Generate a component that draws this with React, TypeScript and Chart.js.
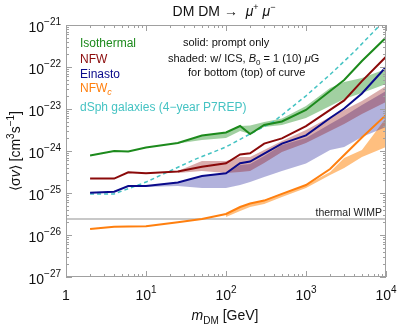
import React, { useEffect, useRef } from 'react';
import { Chart, registerables } from 'chart.js';
Chart.register(...registerables);

const FONT = '"Liberation Sans", Arial, Helvetica, sans-serif';

// ---- data (masses in GeV, <sigma v> in cm^3 s^-1) ----
const massGrid = [2, 4, 6, 10, 25, 50, 100, 150, 200, 300, 500, 1000, 2000, 3000, 5000, 10000];
const isothermal = [7.8e-25, 1.0e-24, 9.7e-25, 1.21e-24, 1.55e-24, 2.34e-24, 2.76e-24, 3.94e-24, 2.54e-24, 4.16e-24, 5.04e-24, 9.46e-24, 2.68e-23, 4.9e-23, 1.39e-22, 5.04e-22];
const nfw = [2.2e-25, 2.2e-25, 3.1e-25, 2.95e-25, 3.25e-25, 4.2e-25, 5.1e-25, 8.3e-25, 8.8e-25, 1.5e-24, 2.0e-24, 3.9e-24, 9.5e-24, 1.6e-23, 4.6e-23, 1.75e-22];
const einasto = [1.02e-25, 1.07e-25, 1.47e-25, 1.47e-25, 1.78e-25, 2.54e-25, 2.94e-25, 5.1e-25, 5.6e-25, 8.7e-25, 1.5e-24, 2.35e-24, 6.1e-24, 1.03e-23, 2.35e-23, 1.0e-22];
const nfwc = [1.39e-26, 1.58e-26, 1.59e-26, 1.61e-26, 2.0e-26, 2.4e-26, 3.16e-26, 4.64e-26, 5.6e-26, 6.6e-26, 9.5e-26, 1.55e-25, 3.73e-25, 8.0e-25, 2.1e-24, 7.2e-24];

const dsphMass = [2, 4, 10, 40, 100, 200, 400, 1000, 2000, 4000, 10000];
const dsph = [9.5e-26, 9.5e-26, 1.82e-25, 6.2e-25, 1.25e-24, 2.54e-24, 5.1e-24, 2.06e-23, 6.6e-23, 2.3e-22, 1.4e-21];

const isoBandMass = [25, 50, 100, 150, 200, 300, 500, 1000, 2000, 3000, 5000, 10000];
const isoBandTop = [1.59e-24, 2.34e-24, 2.76e-24, 3.94e-24, 4.05e-24, 4.9e-24, 5.94e-24, 1.18e-23, 3.16e-23, 4.39e-23, 5.47e-23, 8.96e-23];
const isoBandBottom = [1.51e-24, 1.83e-24, 2.04e-24, 2.99e-24, 2.54e-24, 3.73e-24, 4.16e-24, 6.1e-24, 1.18e-23, 1.73e-23, 2.4e-23, 3.94e-23];

const nfwBandMass = [25, 50, 100, 150, 200, 300, 500, 1000, 2000, 3000, 5000, 10000];
const nfwBandTop = [3.34e-25, 5.78e-25, 5.78e-25, 7.2e-25, 7.2e-25, 1.06e-24, 1.73e-24, 3.16e-24, 6.45e-24, 9.46e-24, 1.55e-23, 3.53e-23];
const nfwBandBottom = [2.99e-25, 3.34e-25, 2.99e-25, 3.16e-25, 3.34e-25, 5.18e-25, 9.46e-25, 1.55e-24, 2.99e-24, 4.39e-24, 7.6e-24, 1.47e-23];

const einBandMass = [10, 25, 50, 100, 150, 200, 300, 500, 1000, 2000, 3000, 5000, 10000];
const einBandTop = [1.47e-25, 1.78e-25, 2.54e-25, 2.94e-25, 4.64e-25, 4.9e-25, 7.6e-25, 1.39e-24, 2.04e-24, 4.39e-24, 6.81e-24, 1.25e-23, 2.68e-23];
const einBandBottom = [1.39e-25, 1.47e-25, 1.32e-25, 1.32e-25, 1.55e-25, 1.83e-25, 2.41e-25, 3.34e-25, 5.04e-25, 1.06e-24, 1.25e-24, 2.16e-24, 3.73e-24];

const nfwcBandMass = [100, 150, 200, 300, 500, 1000, 2000, 3000, 5000, 10000];
const nfwcBandTop = [3.16e-26, 4.64e-26, 5.62e-26, 6.81e-26, 9.73e-26, 1.55e-25, 3.16e-25, 6.81e-25, 1.06e-24, 6.1e-24];
const nfwcBandBottom = [2.68e-26, 3.73e-26, 4.64e-26, 5.47e-26, 8.03e-26, 1.32e-25, 2.68e-25, 3.94e-25, 7.2e-25, 1.25e-24];

const thermalWimp = 2.4e-26;
const xMin = 1, xMax = 1e4;
const yMin = 1e-27, yMax = 1e-21;
const xTickExps = [0, 1, 2, 3, 4];
const yTickExps = [-27, -26, -25, -24, -23, -22, -21];

const C_ISO = '#1c8a1c';
const C_NFW = '#8b0a0a';
const C_EIN = '#0a0a8b';
const C_NFWC = '#ff7f0e';
const C_DSPH = '#45c3c3';

type Seg = { t: string; it?: boolean; sup?: boolean; sub?: boolean };

function drawRich(ctx: CanvasRenderingContext2D, segs: Seg[], x: number, y: number, size: number, align: 'left' | 'center' | 'right', color: string, supSize?: number, supShift?: number) {
  const ss = supSize ?? size * 0.7;
  const sh = supShift ?? size * 0.45;
  const fontFor = (s: Seg) => `${s.it ? 'italic ' : ''}${s.sup || s.sub ? ss : size}px ${FONT}`;
  let w = 0;
  for (const s of segs) { ctx.font = fontFor(s); w += ctx.measureText(s.t).width; }
  let cx = align === 'center' ? x - w / 2 : align === 'right' ? x - w : x;
  ctx.fillStyle = color;
  ctx.textAlign = 'left';
  ctx.textBaseline = 'alphabetic';
  for (const s of segs) {
    ctx.font = fontFor(s);
    const dy = s.sup ? -sh : s.sub ? size * 0.28 : 0;
    ctx.fillText(s.t, cx, y + dy);
    cx += ctx.measureText(s.t).width;
  }
}

const decorPlugin = {
  id: 'decor',
  afterDraw(chart: any) {
    const { ctx, chartArea: a, scales } = chart;
    const xs = scales.x, ys = scales.y;
    ctx.save();
    // frame
    ctx.strokeStyle = '#a0a0a0';
    ctx.lineWidth = 1;
    ctx.strokeRect(a.left + 0.5, a.top + 0.5, a.right - a.left - 1, a.bottom - a.top - 1);
    // x ticks
    ctx.beginPath();
    for (const e of xTickExps) {
      for (let k = 1; k <= 9; k++) {
        if (e === 4 && k > 1) break;
        const v = k * Math.pow(10, e);
        const px = Math.round(xs.getPixelForValue(v)) + 0.5;
        const len = k === 1 ? 6 : 3;
        ctx.moveTo(px, a.bottom); ctx.lineTo(px, a.bottom - len);
        ctx.moveTo(px, a.top); ctx.lineTo(px, a.top + len);
      }
    }
    for (const e of yTickExps) {
      for (let k = 1; k <= 9; k++) {
        if (e === -21 && k > 1) break;
        const v = k * Math.pow(10, e);
        const py = Math.round(ys.getPixelForValue(v)) + 0.5;
        const len = k === 1 ? 6 : 3;
        ctx.moveTo(a.left, py); ctx.lineTo(a.left + len, py);
        ctx.moveTo(a.right, py); ctx.lineTo(a.right - len, py);
      }
    }
    ctx.stroke();
    // tick labels
    for (const e of xTickExps) {
      const px = xs.getPixelForValue(Math.pow(10, e));
      if (e === 0) drawRich(ctx, [{ t: '1' }], px, 300, 14, 'center', '#111');
      else drawRich(ctx, [{ t: '10' }, { t: String(e), sup: true }], px, 300, 14, 'center', '#111', 10, 7);
    }
    for (const e of yTickExps) {
      const py = ys.getPixelForValue(Math.pow(10, e));
      drawRich(ctx, [{ t: '10' }, { t: '\u2212' + String(-e), sup: true }], 61, py + 6.5, 14, 'right', '#111', 10, 7);
    }
    // axis titles
    drawRich(ctx, [{ t: 'm', it: true }, { t: 'DM', sub: true }, { t: ' [GeV]' }], 225, 320, 14, 'center', '#111', 10);
    ctx.save();
    ctx.translate(20, 151);
    ctx.rotate(-Math.PI / 2);
    drawRich(ctx, [{ t: '\u27E8\u03C3' }, { t: 'v', it: true }, { t: '\u27E9 [cm' }, { t: '3', sup: true }, { t: 's' }, { t: '\u22121', sup: true }, { t: ']' }], 0, 0, 14, 'center', '#111', 10, 6);
    ctx.restore();
    // title
    drawRich(ctx, [{ t: 'DM DM \u2192  ' }, { t: '\u03BC', it: true }, { t: '+', sup: true }, { t: ' ' }, { t: '\u03BC', it: true }, { t: '\u2212', sup: true }], 224, 16, 14, 'center', '#111', 9, 6);
    // legend
    drawRich(ctx, [{ t: 'Isothermal' }], 80, 47, 12, 'left', C_ISO);
    drawRich(ctx, [{ t: 'NFW' }], 80, 62.5, 12, 'left', C_NFW);
    drawRich(ctx, [{ t: 'Einasto' }], 80, 77.5, 12, 'left', C_EIN);
    drawRich(ctx, [{ t: 'NFW' }, { t: 'c', it: true, sub: true }], 80, 92, 12, 'left', C_NFWC, 9);
    drawRich(ctx, [{ t: 'dSph galaxies (4\u2212year P7REP)' }], 80, 111, 12, 'left', C_DSPH);
    // annotation
    drawRich(ctx, [{ t: 'solid: prompt only' }], 183, 46, 11, 'left', '#111');
    drawRich(ctx, [{ t: 'shaded: w/ ICS, ' }, { t: 'B', it: true }, { t: '0', sub: true }, { t: ' = 1 (10) ' }, { t: '\u03BC', it: true }, { t: 'G' }], 168, 61.5, 11, 'left', '#111', 8);
    drawRich(ctx, [{ t: 'for bottom (top) of curve' }], 188, 76, 11, 'left', '#111');
    drawRich(ctx, [{ t: 'thermal WIMP' }], 382, 216, 10.5, 'right', '#222');
    ctx.restore();
  },
};

const pts = (ms: number[], vs: number[]) => ms.map((m, i) => ({ x: m, y: vs[i] }));

export default function App() {
  const ref = useRef<HTMLCanvasElement>(null);
  useEffect(() => {
    document.body.style.margin = '0';
    const line = (data: any, color: string, extra: any = {}) => ({
      data, borderColor: color, borderWidth: 2, pointRadius: 0, tension: 0, fill: false, order: 0, ...extra,
    });
    const bandTop = (data: any, color: string) => ({
      data, borderWidth: 0, borderColor: 'rgba(0,0,0,0)', pointRadius: 0, tension: 0, fill: '+1', backgroundColor: color, order: 10,
    });
    const bandBottom = (data: any) => ({
      data, borderWidth: 0, borderColor: 'rgba(0,0,0,0)', pointRadius: 0, tension: 0, fill: false, order: 10,
    });
    const chart = new Chart(ref.current as HTMLCanvasElement, {
      type: 'line',
      data: {
        datasets: [
          line(pts(massGrid, isothermal), C_ISO),
          line(pts(massGrid, nfw), C_NFW),
          line(pts(massGrid, einasto), C_EIN),
          line(pts(massGrid, nfwc), C_NFWC),
          line(pts(dsphMass, dsph), C_DSPH, { borderWidth: 1.5, borderDash: [4, 3] }),
          bandTop(pts(isoBandMass, isoBandTop), 'rgba(0,128,0,0.37)'),
          bandBottom(pts(isoBandMass, isoBandBottom)),
          bandTop(pts(nfwBandMass, nfwBandTop), 'rgba(139,0,0,0.32)'),
          bandBottom(pts(nfwBandMass, nfwBandBottom)),
          bandTop(pts(einBandMass, einBandTop), 'rgba(0,0,139,0.3)'),
          bandBottom(pts(einBandMass, einBandBottom)),
          bandTop(pts(nfwcBandMass, nfwcBandTop), 'rgba(255,128,0,0.5)'),
          bandBottom(pts(nfwcBandMass, nfwcBandBottom)),
          line([{ x: xMin, y: thermalWimp }, { x: xMax, y: thermalWimp }], '#c8c8c8', { order: 20 }),
        ] as any,
      },
      options: {
        animation: false,
        responsive: false,
        devicePixelRatio: 1,
        layout: { padding: { left: 66, top: 25, right: 13, bottom: 50 } },
        plugins: { legend: { display: false }, tooltip: { enabled: false }, title: { display: false } },
        scales: {
          x: { type: 'logarithmic', min: xMin, max: xMax, display: false },
          y: { type: 'logarithmic', min: yMin, max: yMax, display: false },
        },
      } as any,
      plugins: [decorPlugin],
    });
    return () => chart.destroy();
  }, []);
  return (
    <div style={{ width: 399, height: 327, background: '#fff' }}>
      <canvas ref={ref} width={399} height={327} style={{ display: 'block' }} />
    </div>
  );
}
